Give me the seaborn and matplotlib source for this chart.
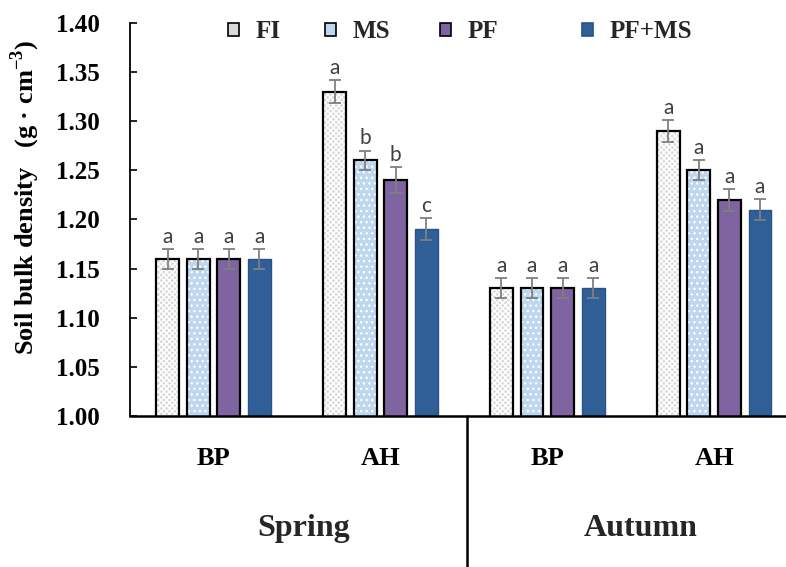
import matplotlib
matplotlib.use("Agg")
import matplotlib.pyplot as plt
import matplotlib.transforms as mtransforms
from matplotlib.patches import Patch, Rectangle
from matplotlib.lines import Line2D
import seaborn as sns
import pandas as pd

# ---------------- data ----------------
seasons = ["Spring", "Spring", "Autumn", "Autumn"]
stages = ["BP", "AH", "BP", "AH"]
treatments = ["FI", "MS", "PF", "PF+MS"]

FI = [1.16, 1.33, 1.13, 1.29]
MS = [1.16, 1.26, 1.13, 1.25]
PF = [1.16, 1.24, 1.13, 1.22]
PFMS = [1.16, 1.19, 1.13, 1.21]

FI_err = [0.010, 0.012, 0.010, 0.011]
MS_err = [0.010, 0.010, 0.010, 0.010]
PF_err = [0.010, 0.013, 0.010, 0.011]
PFMS_err = [0.010, 0.011, 0.010, 0.011]

FI_sig = ["a", "a", "a", "a"]
MS_sig = ["a", "b", "a", "a"]
PF_sig = ["a", "b", "a", "a"]
PFMS_sig = ["a", "c", "a", "a"]

values = [FI, MS, PF, PFMS]
errors = [FI_err, MS_err, PF_err, PFMS_err]
sigs = [FI_sig, MS_sig, PF_sig, PFMS_sig]

groups = [f"{s} {g}" for s, g in zip(seasons, stages)]
rows = []
for t, vals in zip(treatments, values):
    for g, v in zip(groups, vals):
        rows.append({"group": g, "treatment": t, "value": v})
df = pd.DataFrame(rows)

# ---------------- style ----------------
sns.set_theme(style="white")
plt.rcParams["font.family"] = ["Liberation Serif", "DejaVu Serif"]
plt.rcParams["font.weight"] = "bold"
plt.rcParams["mathtext.fontset"] = "custom"
plt.rcParams["mathtext.rm"] = "Liberation Serif"
plt.rcParams["mathtext.bf"] = "Liberation Serif:bold"
plt.rcParams["hatch.linewidth"] = 1.0

face = {"FI": "#DADADA", "MS": "#BDD7EE", "PF": "#8064A2", "PF+MS": "#305F97"}
edge = {"FI": "black", "MS": "black", "PF": "black", "PF+MS": "#2A5288"}
hatch = {"FI": "xxxxxx", "MS": "...", "PF": None, "PF+MS": None}

fig = plt.figure(figsize=(7.86, 5.67), dpi=100)
ax = fig.add_axes([130 / 786, 151 / 567, 1 - 130 / 786, (416 - 22.7) / 567])

sns.barplot(data=df, x="group", y="value", hue="treatment", order=groups,
            hue_order=treatments, palette=face, width=0.732, gap=0.25,
            legend=False, errorbar=None, ax=ax, zorder=2)

for t, cont, errs, sg in zip(treatments, ax.containers, errors, sigs):
    xs, tops = [], []
    for p in cont.patches:
        x0, y0 = p.get_xy()
        w, h = p.get_width(), p.get_height()
        if hatch[t]:
            p.set_facecolor(face[t])
            p.set_edgecolor("white")
            p.set_hatch(hatch[t])
            p.set_linewidth(0)
            ax.add_patch(Rectangle((x0, y0), w, h, fill=False,
                                   edgecolor=edge[t], lw=1.6, zorder=3))
        else:
            p.set_facecolor(face[t])
            p.set_edgecolor(edge[t])
            p.set_linewidth(1.6 if t == "PF" else 1.0)
        xs.append(x0 + w / 2)
        tops.append(y0 + h)
    ax.errorbar(xs, tops, yerr=errs, fmt="none", ecolor="#7F7F7F",
                elinewidth=1.3, capsize=4, capthick=1.3, zorder=4)
    for x, v, e, s in zip(xs, tops, errs, sg):
        ax.annotate(s, (x, v + e), xytext=(0, 1.5), textcoords="offset points",
                    ha="center", va="bottom", fontsize=15, color="#404040",
                    family=["Lato", "DejaVu Sans"], fontweight="normal")

ax.set_ylim(1.00, 1.40)
ax.set_xlim(-0.5, 3.43)
ax.set_yticks([1.00, 1.05, 1.10, 1.15, 1.20, 1.25, 1.30, 1.35, 1.40])
ax.set_yticklabels([f"{v:.2f}" for v in ax.get_yticks()])
ax.set_xticks(range(len(groups)))
ax.set_xticklabels(stages)
ax.tick_params(axis="y", direction="in", length=5, width=1.2, pad=22,
               labelsize=18, left=True, colors="black")
ax.tick_params(axis="x", length=0, pad=22, labelsize=19, colors="black")
for lab in ax.get_xticklabels() + ax.get_yticklabels():
    lab.set_fontweight("bold")

ax.set_xlabel("")
ax.set_ylabel(r"Soil bulk density   (g · cm$^{\mathbf{-3}}$)", fontsize=19,
              fontweight="bold", color="black", va="center")
ax.yaxis.set_label_coords(-105 / 656, 0.557)

for side in ["top", "right"]:
    ax.spines[side].set_visible(False)
ax.spines["left"].set_color("black")
ax.spines["left"].set_linewidth(1.3)
ax.spines["bottom"].set_color("black")
ax.spines["bottom"].set_linewidth(1.8)

trans = mtransforms.blended_transform_factory(ax.transData, ax.transAxes)
ax.add_line(Line2D([1.518, 1.518], [0, -0.40], transform=trans, color="black",
                   lw=1.8, clip_on=False))
ax.text(0.54, -0.285, "Spring", transform=trans, ha="center", va="center",
        fontsize=23, fontweight="bold")
ax.text(2.56, -0.285, "Autumn", transform=trans, ha="center", va="center",
        fontsize=23, fontweight="bold")

# legend entries
leg_x = [228, 325, 440, 582]
for t, lx in zip(treatments, leg_x):
    h = Patch(facecolor=face[t], edgecolor=edge[t], lw=1.2)
    fig.legend(handles=[h], labels=[t], loc="center left",
               bbox_to_anchor=(lx / 786, 1 - 32 / 567), frameon=False,
               borderpad=0, borderaxespad=0, handlelength=0.42,
               handleheight=0.42, handletextpad=0.7,
               prop={"family": "Liberation Serif", "weight": "bold", "size": 18})

fig.savefig("out.png", dpi=100)
